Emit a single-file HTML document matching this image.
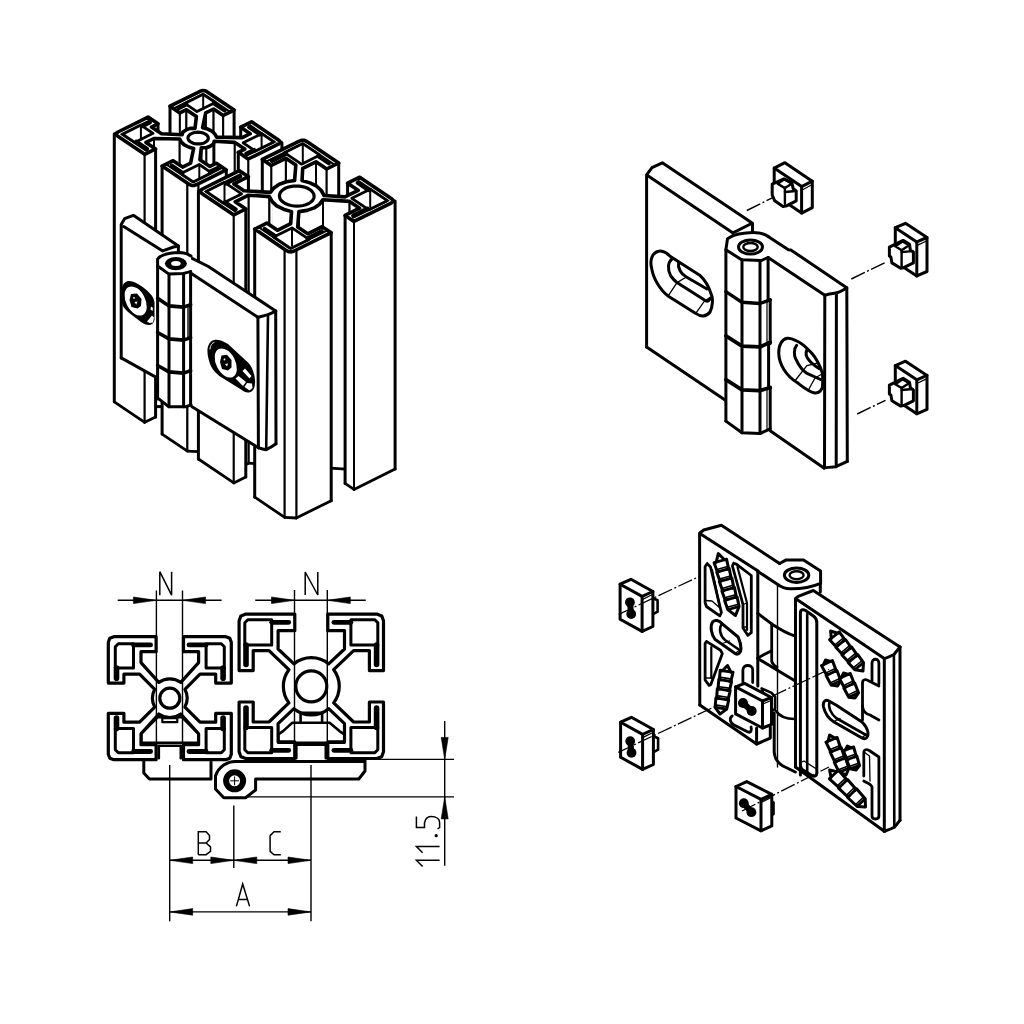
<!DOCTYPE html>
<html><head><meta charset="utf-8"><style>
html,body{margin:0;padding:0;background:#fff;}
svg{display:block;}
</style></head><body>
<svg width="1024" height="1024" viewBox="0 0 1024 1024">
<rect width="1024" height="1024" fill="#fff"/>
<g fill="none" stroke="#000" stroke-width="2.8" stroke-linecap="round">
<polygon points="179.9,112.9 170,106.2 170,374.2 179.9,380.9" fill="#fff" stroke="none"/>
<path d="M179.9,380.9 L170,374.2"/>
<path d="M179.9,112.9 L179.9,380.9" stroke-width="2"/>
<path d="M170,106.2 L170,374.2" stroke-width="3"/>
<polygon points="213.6,109 205.7,112.9 205.7,380.9 213.6,377" fill="#fff" stroke="none"/>
<path d="M213.6,377 L205.7,380.9"/>
<path d="M213.6,109 L213.6,377" stroke-width="2"/>
<path d="M205.7,112.9 L205.7,380.9" stroke-width="2"/>
<polygon points="186.4,109.7 179.9,112.9 179.9,380.9 186.4,377.7" fill="#fff" stroke="none"/>
<path d="M186.4,377.7 L179.9,380.9"/>
<path d="M186.4,109.7 L186.4,377.7" stroke-width="2"/>
<path d="M179.9,112.9 L179.9,380.9" stroke-width="2"/>
<polygon points="223.2,115.5 213.6,109 213.6,377 223.2,383.5" fill="#fff" stroke="none"/>
<path d="M223.2,383.5 L213.6,377"/>
<path d="M223.2,115.5 L223.2,383.5" stroke-width="2"/>
<path d="M213.6,109 L213.6,377" stroke-width="2"/>
<polygon points="234.1,110.1 223.2,115.5 223.2,383.5 234.1,378.1" fill="#fff" stroke="none"/>
<path d="M234.1,378.1 L223.2,383.5"/>
<path d="M234.1,110.1 L234.1,378.1" stroke-width="3"/>
<path d="M223.2,115.5 L223.2,383.5" stroke-width="2"/>
<polygon points="196.4,116.5 186.4,109.7 186.4,377.7 196.4,384.5" fill="#fff" stroke="none"/>
<path d="M196.4,384.5 L186.4,377.7"/>
<path d="M196.4,116.5 L196.4,384.5" stroke-width="3"/>
<path d="M186.4,109.7 L186.4,377.7" stroke-width="2"/>
<polygon points="205.7,112.9 202.6,127.7 202.6,395.7 205.7,380.9" fill="#fff" stroke="none"/>
<path d="M205.7,380.9 L202.6,395.7"/>
<path d="M205.7,112.9 L205.7,380.9" stroke-width="2"/>
<path d="M202.6,127.7 L202.6,395.7" stroke-width="3"/>
<polygon points="158,123.8 151.5,127 151.5,395 158,391.8" fill="#fff" stroke="none"/>
<path d="M158,391.8 L151.5,395"/>
<path d="M158,123.8 L158,391.8" stroke-width="3"/>
<path d="M151.5,127 L151.5,395" stroke-width="3"/>
<polygon points="250.2,133.7 240.7,127.2 240.7,395.2 250.2,401.7" fill="#fff" stroke="none"/>
<path d="M250.2,401.7 L240.7,395.2"/>
<path d="M250.2,133.7 L250.2,401.7" stroke-width="3"/>
<path d="M240.7,127.2 L240.7,395.2" stroke-width="3"/>
<polygon points="179.7,139 154,138.5 154,406.5 179.7,407" fill="#fff" stroke="none"/>
<path d="M179.7,407 L154,406.5"/>
<path d="M179.7,139 L179.7,407" stroke-width="2"/>
<path d="M154,138.5 L154,406.5" stroke-width="2"/>
<polygon points="154,138.5 146,142.4 146,410.4 154,406.5" fill="#fff" stroke="none"/>
<path d="M154,406.5 L146,410.4"/>
<path d="M154,138.5 L154,406.5" stroke-width="2"/>
<path d="M146,142.4 L146,410.4" stroke-width="3"/>
<polygon points="181.3,142.1 179.7,139 179.7,407 181.3,410.1" fill="#fff" stroke="none"/>
<path d="M181.3,410.1 L179.7,407"/>
<path d="M179.7,139 L179.7,407" stroke-width="2"/>
<polygon points="234.8,142.4 214.2,141.3 214.2,409.3 234.8,410.4" fill="#fff" stroke="none"/>
<path d="M234.8,410.4 L214.2,409.3"/>
<path d="M234.8,142.4 L234.8,410.4" stroke-width="2"/>
<path d="M214.2,141.3 L214.2,409.3" stroke-width="2"/>
<polygon points="214.2,141.3 213.4,144.1 213.4,412.1 214.2,409.3" fill="#fff" stroke="none"/>
<path d="M214.2,409.3 L213.4,412.1"/>
<path d="M214.2,141.3 L214.2,409.3" stroke-width="2"/>
<path d="M213.4,144.1 L213.4,412.1" stroke-width="2"/>
<polygon points="184.3,144.9 181.3,142.1 181.3,410.1 184.3,412.9" fill="#fff" stroke="none"/>
<path d="M184.3,412.9 L181.3,410.1"/>
<polygon points="144.7,154.3 114.3,133.8 114.3,401.8 144.7,422.3" fill="#fff" stroke="none"/>
<path d="M144.7,422.3 L114.3,401.8"/>
<path d="M144.7,154.3 L144.7,422.3" stroke-width="2"/>
<path d="M114.3,133.8 L114.3,401.8" stroke-width="3"/>
<polygon points="213.4,144.1 210.2,146.2 210.2,414.2 213.4,412.1" fill="#fff" stroke="none"/>
<path d="M213.4,412.1 L210.2,414.2"/>
<path d="M213.4,144.1 L213.4,412.1" stroke-width="2"/>
<polygon points="244.8,149.1 234.8,142.4 234.8,410.4 244.8,417.1" fill="#fff" stroke="none"/>
<path d="M244.8,417.1 L234.8,410.4"/>
<path d="M244.8,149.1 L244.8,417.1" stroke-width="3"/>
<path d="M234.8,142.4 L234.8,410.4" stroke-width="2"/>
<polygon points="188.6,147 184.3,144.9 184.3,412.9 188.6,415" fill="#fff" stroke="none"/>
<path d="M188.6,415 L184.3,412.9"/>
<polygon points="210.2,146.2 206.2,147.7 206.2,415.7 210.2,414.2" fill="#fff" stroke="none"/>
<path d="M210.2,414.2 L206.2,415.7"/>
<path d="M206.2,147.7 L206.2,415.7" stroke-width="2"/>
<polygon points="206.2,147.7 201.3,147.7 201.3,415.7 206.2,415.7" fill="#fff" stroke="none"/>
<path d="M206.2,415.7 L201.3,415.7"/>
<path d="M206.2,147.7 L206.2,415.7" stroke-width="2"/>
<path d="M201.3,147.7 L201.3,415.7" stroke-width="2"/>
<polygon points="193.6,148.5 188.6,147 188.6,415 193.6,416.5" fill="#fff" stroke="none"/>
<path d="M193.6,416.5 L188.6,415"/>
<path d="M193.6,148.5 L193.6,416.5" stroke-width="3"/>
<polygon points="281.9,142.4 248.2,159 248.2,427 281.9,410.4" fill="#fff" stroke="none"/>
<path d="M281.9,410.4 L248.2,427"/>
<path d="M281.9,142.4 L281.9,410.4" stroke-width="3"/>
<path d="M248.2,159 L248.2,427" stroke-width="2"/>
<polygon points="155.6,148.9 144.7,154.3 144.7,422.3 155.6,416.9" fill="#fff" stroke="none"/>
<path d="M155.6,416.9 L144.7,422.3"/>
<path d="M155.6,148.9 L155.6,416.9" stroke-width="3"/>
<path d="M144.7,154.3 L144.7,422.3" stroke-width="2"/>
<polygon points="201.3,147.7 199.9,159.7 199.9,427.7 201.3,415.7" fill="#fff" stroke="none"/>
<path d="M201.3,415.7 L199.9,427.7"/>
<path d="M201.3,147.7 L201.3,415.7" stroke-width="2"/>
<path d="M199.9,159.7 L199.9,427.7" stroke-width="3"/>
<polygon points="248.2,159 238.3,152.3 238.3,420.3 248.2,427" fill="#fff" stroke="none"/>
<path d="M248.2,427 L238.3,420.3"/>
<path d="M248.2,159 L248.2,427" stroke-width="2"/>
<path d="M238.3,152.3 L238.3,420.3" stroke-width="3"/>
<polygon points="295.8,165.1 285.8,158.3 285.8,426.3 295.8,433.1" fill="#fff" stroke="none"/>
<path d="M295.8,433.1 L285.8,426.3"/>
<path d="M295.8,165.1 L295.8,433.1" stroke-width="3"/>
<path d="M285.8,158.3 L285.8,426.3" stroke-width="2"/>
<polygon points="285.8,158.3 271.2,165.5 271.2,433.5 285.8,426.3" fill="#fff" stroke="none"/>
<path d="M285.8,426.3 L271.2,433.5"/>
<path d="M285.8,158.3 L285.8,426.3" stroke-width="2"/>
<path d="M271.2,165.5 L271.2,433.5" stroke-width="2"/>
<polygon points="271.2,165.5 262.3,159.4 262.3,427.4 271.2,433.5" fill="#fff" stroke="none"/>
<path d="M271.2,433.5 L262.3,427.4"/>
<path d="M271.2,165.5 L271.2,433.5" stroke-width="2"/>
<path d="M262.3,159.4 L262.3,427.4" stroke-width="3"/>
<polygon points="316,161.8 302.7,168.4 302.7,436.4 316,429.8" fill="#fff" stroke="none"/>
<path d="M316,429.8 L302.7,436.4"/>
<path d="M316,161.8 L316,429.8" stroke-width="2"/>
<path d="M302.7,168.4 L302.7,436.4" stroke-width="2"/>
<polygon points="326.7,169 316,161.8 316,429.8 326.7,437" fill="#fff" stroke="none"/>
<path d="M326.7,437 L316,429.8"/>
<path d="M326.7,169 L326.7,437" stroke-width="2"/>
<path d="M316,161.8 L316,429.8" stroke-width="2"/>
<polygon points="338.7,163 326.7,169 326.7,437 338.7,431" fill="#fff" stroke="none"/>
<path d="M338.7,431 L326.7,437"/>
<path d="M338.7,163 L338.7,431" stroke-width="3"/>
<path d="M326.7,169 L326.7,437" stroke-width="2"/>
<polygon points="302.7,168.4 302,180.5 302,448.5 302.7,436.4" fill="#fff" stroke="none"/>
<path d="M302.7,436.4 L302,448.5"/>
<path d="M302.7,168.4 L302.7,436.4" stroke-width="2"/>
<path d="M302,180.5 L302,448.5" stroke-width="3"/>
<polygon points="187.4,183.1 162.1,166.1 162.1,434.1 187.4,451.1" fill="#fff" stroke="none"/>
<path d="M187.4,451.1 L162.1,434.1"/>
<path d="M187.4,183.1 L187.4,451.1" stroke-width="2"/>
<path d="M162.1,166.1 L162.1,434.1" stroke-width="3"/>
<polygon points="226.3,169.9 198.3,183.7 198.3,451.7 226.3,437.9" fill="#fff" stroke="none"/>
<path d="M226.3,437.9 L198.3,451.7"/>
<path d="M226.3,169.9 L226.3,437.9" stroke-width="3"/>
<path d="M198.3,183.7 L198.3,451.7" stroke-width="2"/>
<polygon points="248.4,176.7 233.9,183.9 233.9,451.9 248.4,444.7" fill="#fff" stroke="none"/>
<path d="M248.4,444.7 L233.9,451.9"/>
<path d="M248.4,176.7 L248.4,444.7" stroke-width="3"/>
<path d="M233.9,183.9 L233.9,451.9" stroke-width="3"/>
<polygon points="198.3,183.7 187.4,183.1 187.4,451.1 198.3,451.7" fill="#fff" stroke="none"/>
<path d="M198.3,451.7 L187.4,451.1"/>
<path d="M198.3,183.7 L198.3,451.7" stroke-width="2"/>
<path d="M187.4,183.1 L187.4,451.1" stroke-width="2"/>
<polygon points="358.2,190.3 347.6,183.2 347.6,451.2 358.2,458.3" fill="#fff" stroke="none"/>
<path d="M358.2,458.3 L347.6,451.2"/>
<path d="M358.2,190.3 L358.2,458.3" stroke-width="3"/>
<path d="M347.6,183.2 L347.6,451.2" stroke-width="3"/>
<polygon points="269.4,196.6 248.5,195.2 248.5,463.2 269.4,464.6" fill="#fff" stroke="none"/>
<path d="M269.4,464.6 L248.5,463.2"/>
<path d="M269.4,196.6 L269.4,464.6" stroke-width="2"/>
<path d="M248.5,195.2 L248.5,463.2" stroke-width="2"/>
<polygon points="248.5,195.2 235.2,201.8 235.2,469.8 248.5,463.2" fill="#fff" stroke="none"/>
<path d="M248.5,463.2 L235.2,469.8"/>
<path d="M248.5,195.2 L248.5,463.2" stroke-width="2"/>
<path d="M235.2,201.8 L235.2,469.8" stroke-width="3"/>
<polygon points="272.2,201.6 269.4,196.6 269.4,464.6 272.2,469.6" fill="#fff" stroke="none"/>
<path d="M272.2,469.6 L269.4,464.6"/>
<path d="M269.4,196.6 L269.4,464.6" stroke-width="2"/>
<polygon points="349.6,201.4 323,199.7 323,467.7 349.6,469.4" fill="#fff" stroke="none"/>
<path d="M349.6,469.4 L323,467.7"/>
<path d="M349.6,201.4 L349.6,469.4" stroke-width="2"/>
<path d="M323,199.7 L323,467.7" stroke-width="2"/>
<polygon points="323,199.7 319.6,204.2 319.6,472.2 323,467.7" fill="#fff" stroke="none"/>
<path d="M323,467.7 L319.6,472.2"/>
<path d="M323,199.7 L323,467.7" stroke-width="2"/>
<polygon points="233.8,214.9 198.4,191 198.4,459 233.8,482.9" fill="#fff" stroke="none"/>
<path d="M233.8,482.9 L198.4,459"/>
<path d="M233.8,214.9 L233.8,482.9" stroke-width="2"/>
<path d="M198.4,191 L198.4,459" stroke-width="3"/>
<polygon points="276.7,205.9 272.2,201.6 272.2,469.6 276.7,473.9" fill="#fff" stroke="none"/>
<path d="M276.7,473.9 L272.2,469.6"/>
<polygon points="359.6,208.2 349.6,201.4 349.6,469.4 359.6,476.2" fill="#fff" stroke="none"/>
<path d="M359.6,476.2 L349.6,469.4"/>
<path d="M359.6,208.2 L359.6,476.2" stroke-width="3"/>
<path d="M349.6,201.4 L349.6,469.4" stroke-width="2"/>
<polygon points="319.6,204.2 314.2,207.9 314.2,475.9 319.6,472.2" fill="#fff" stroke="none"/>
<path d="M319.6,472.2 L314.2,475.9"/>
<polygon points="283.5,209.2 276.7,205.9 276.7,473.9 283.5,477.2" fill="#fff" stroke="none"/>
<path d="M283.5,477.2 L276.7,473.9"/>
<polygon points="314.2,207.9 307.1,210.4 307.1,478.4 314.2,475.9" fill="#fff" stroke="none"/>
<path d="M314.2,475.9 L307.1,478.4"/>
<polygon points="291.5,211.6 283.5,209.2 283.5,477.2 291.5,479.6" fill="#fff" stroke="none"/>
<path d="M291.5,479.6 L283.5,477.2"/>
<path d="M291.5,211.6 L291.5,479.6" stroke-width="3"/>
<polygon points="307.1,210.4 298.9,211.6 298.9,479.6 307.1,478.4" fill="#fff" stroke="none"/>
<path d="M307.1,478.4 L298.9,479.6"/>
<path d="M298.9,211.6 L298.9,479.6" stroke-width="2"/>
<polygon points="395.1,201.1 354,221.4 354,489.4 395.1,469.1" fill="#fff" stroke="none"/>
<path d="M395.1,469.1 L354,489.4"/>
<path d="M395.1,201.1 L395.1,469.1" stroke-width="3"/>
<path d="M354,221.4 L354,489.4" stroke-width="2"/>
<polygon points="245.8,209 233.8,214.9 233.8,482.9 245.8,477" fill="#fff" stroke="none"/>
<path d="M245.8,477 L233.8,482.9"/>
<path d="M245.8,209 L245.8,477" stroke-width="3"/>
<path d="M233.8,214.9 L233.8,482.9" stroke-width="2"/>
<polygon points="354,221.4 345.1,215.4 345.1,483.4 354,489.4" fill="#fff" stroke="none"/>
<path d="M354,489.4 L345.1,483.4"/>
<path d="M354,221.4 L354,489.4" stroke-width="2"/>
<path d="M345.1,215.4 L345.1,483.4" stroke-width="3"/>
<polygon points="298.9,211.6 297.7,227.1 297.7,495.1 298.9,479.6" fill="#fff" stroke="none"/>
<path d="M298.9,479.6 L297.7,495.1"/>
<path d="M298.9,211.6 L298.9,479.6" stroke-width="2"/>
<path d="M297.7,227.1 L297.7,495.1" stroke-width="3"/>
<polygon points="284.7,249.4 254.7,229.1 254.7,497.1 284.7,517.4" fill="#fff" stroke="none"/>
<path d="M284.7,517.4 L254.7,497.1"/>
<path d="M284.7,249.4 L284.7,517.4" stroke-width="2"/>
<path d="M254.7,229.1 L254.7,497.1" stroke-width="3"/>
<polygon points="331.2,232.7 296.3,250 296.3,518 331.2,500.7" fill="#fff" stroke="none"/>
<path d="M331.2,500.7 L296.3,518"/>
<path d="M331.2,232.7 L331.2,500.7" stroke-width="3"/>
<path d="M296.3,250 L296.3,518" stroke-width="2"/>
<polygon points="296.3,250 284.7,249.4 284.7,517.4 296.3,518" fill="#fff" stroke="none"/>
<path d="M296.3,518 L284.7,517.4"/>
<path d="M296.3,250 L296.3,518" stroke-width="2"/>
<path d="M284.7,249.4 L284.7,517.4" stroke-width="2"/>
</g>
<clipPath id="tc1"><polygon points="195,128.4 196.4,116.5 186.4,109.7 179.9,112.9 170,106.2 200.1,91.3 202.5,90.6 204.8,90.7 206.9,91.7 234.1,110.1 223.2,115.5 213.6,109 205.7,112.9 202.6,127.7 207.7,129.1 212,131.2 214.9,134 216.6,137.1 242.3,137.6 250.2,133.7 240.7,127.2 251.6,121.8 278.8,140.2 280.1,141.6 280,142.9 278.3,144.2 248.2,159 238.3,152.3 244.8,149.1 234.8,142.4 214.2,141.3 213.4,144.1 210.2,146.2 206.2,147.7 201.3,147.7 199.9,159.7 209.9,166.4 216.3,163.2 226.3,169.9 196.2,184.8 193.8,185.5 191.5,185.4 189.4,184.4 162.1,166.1 173.1,160.7 182.6,167.1 190.6,163.2 193.6,148.5 188.6,147 184.3,144.9 181.3,142.1 179.7,139 154,138.5 146,142.4 155.6,148.9 144.7,154.3 117.5,135.9 116.2,134.5 116.3,133.2 118,132 148.1,117.1 158,123.8 151.5,127 161.5,133.7 182.1,134.8 182.9,132 186.1,129.9 190.1,128.4"/></clipPath>
<polygon points="195,128.4 196.4,116.5 186.4,109.7 179.9,112.9 170,106.2 200.1,91.3 202.5,90.6 204.8,90.7 206.9,91.7 234.1,110.1 223.2,115.5 213.6,109 205.7,112.9 202.6,127.7 207.7,129.1 212,131.2 214.9,134 216.6,137.1 242.3,137.6 250.2,133.7 240.7,127.2 251.6,121.8 278.8,140.2 280.1,141.6 280,142.9 278.3,144.2 248.2,159 238.3,152.3 244.8,149.1 234.8,142.4 214.2,141.3 213.4,144.1 210.2,146.2 206.2,147.7 201.3,147.7 199.9,159.7 209.9,166.4 216.3,163.2 226.3,169.9 196.2,184.8 193.8,185.5 191.5,185.4 189.4,184.4 162.1,166.1 173.1,160.7 182.6,167.1 190.6,163.2 193.6,148.5 188.6,147 184.3,144.9 181.3,142.1 179.7,139 154,138.5 146,142.4 155.6,148.9 144.7,154.3 117.5,135.9 116.2,134.5 116.3,133.2 118,132 148.1,117.1 158,123.8 151.5,127 161.5,133.7 182.1,134.8 182.9,132 186.1,129.9 190.1,128.4" fill="#fff" stroke="none"/>
<path d="M170,106.2 L200.1,91.3 L202.5,90.6 L204.8,90.7 L206.9,91.7 L234.1,110.1 M251.6,121.8 L278.8,140.2 L280.1,141.6 L280,142.9 L278.3,144.2 L248.2,159 M226.3,169.9 L196.2,184.8 L193.8,185.5 L191.5,185.4 L189.4,184.4 L162.1,166.1 M144.7,154.3 L117.5,135.9 L116.2,134.5 L116.3,133.2 L118,132 L148.1,117.1" fill="none" stroke="#000" stroke-width="9.4" stroke-linejoin="round" clip-path="url(#tc1)"/>
<path d="M170,106.2 L200.1,91.3 L202.5,90.6 L204.8,90.7 L206.9,91.7 L234.1,110.1 M251.6,121.8 L278.8,140.2 L280.1,141.6 L280,142.9 L278.3,144.2 L248.2,159 M226.3,169.9 L196.2,184.8 L193.8,185.5 L191.5,185.4 L189.4,184.4 L162.1,166.1 M144.7,154.3 L117.5,135.9 L116.2,134.5 L116.3,133.2 L118,132 L148.1,117.1" fill="none" stroke="#fff" stroke-width="5.4" stroke-linejoin="round" clip-path="url(#tc1)"/>
<polygon points="195,128.4 196.4,116.5 186.4,109.7 179.9,112.9 170,106.2 200.1,91.3 202.5,90.6 204.8,90.7 206.9,91.7 234.1,110.1 223.2,115.5 213.6,109 205.7,112.9 202.6,127.7 207.7,129.1 212,131.2 214.9,134 216.6,137.1 242.3,137.6 250.2,133.7 240.7,127.2 251.6,121.8 278.8,140.2 280.1,141.6 280,142.9 278.3,144.2 248.2,159 238.3,152.3 244.8,149.1 234.8,142.4 214.2,141.3 213.4,144.1 210.2,146.2 206.2,147.7 201.3,147.7 199.9,159.7 209.9,166.4 216.3,163.2 226.3,169.9 196.2,184.8 193.8,185.5 191.5,185.4 189.4,184.4 162.1,166.1 173.1,160.7 182.6,167.1 190.6,163.2 193.6,148.5 188.6,147 184.3,144.9 181.3,142.1 179.7,139 154,138.5 146,142.4 155.6,148.9 144.7,154.3 117.5,135.9 116.2,134.5 116.3,133.2 118,132 148.1,117.1 158,123.8 151.5,127 161.5,133.7 182.1,134.8 182.9,132 186.1,129.9 190.1,128.4" fill="none" stroke="#000" stroke-width="3.6" stroke-linejoin="round"/>
<polygon points="204.8,142.6 203.4,143.2 201.8,143.6 200.1,143.9 198.3,143.9 196.6,143.9 194.9,143.6 193.3,143.2 191.8,142.6 190.5,141.8 189.5,141 188.7,140.1 188.2,139.1 188,138.1 188.1,137 188.5,136 189.3,135.1 190.2,134.3 191.5,133.6 192.9,133 194.5,132.5 196.2,132.3 197.9,132.2 199.7,132.3 201.4,132.5 203,133 204.5,133.6 205.8,134.3 206.8,135.1 207.6,136.1 208.1,137 208.3,138.1 208.2,139.1 207.7,140.1 207,141 206,141.8 204.8,142.6" fill="#fff" stroke="#000" stroke-width="3.2"/>
<polyline points="224.7,110.7 213.8,103.3" fill="none" stroke="#000" stroke-width="4" stroke-linecap="round"/>
<polyline points="186.2,104.3 178.7,108" fill="none" stroke="#000" stroke-width="4.4" stroke-linecap="round"/>
<polygon points="215.4,102.5 197,111.6 184.8,103.4 203.2,94.3" fill="none" stroke="#000" stroke-width="2.8" stroke-linejoin="round"/>
<line x1="203.2" y1="94.3" x2="203.2" y2="109.6" stroke="#000" stroke-width="2"/>
<polyline points="147.2,149 136.3,141.6" fill="none" stroke="#000" stroke-width="4" stroke-linecap="round"/>
<polyline points="142.3,126 149.8,122.3" fill="none" stroke="#000" stroke-width="4.4" stroke-linecap="round"/>
<polygon points="134.7,142.4 153.1,133.3 140.9,125.1 122.5,134.2" fill="none" stroke="#000" stroke-width="2.8" stroke-linejoin="round"/>
<line x1="140.9" y1="125.1" x2="140.9" y2="140.4" stroke="#000" stroke-width="2"/>
<polyline points="249.1,127.1 260,134.5" fill="none" stroke="#000" stroke-width="4" stroke-linecap="round"/>
<polyline points="254,150.1 246.5,153.8" fill="none" stroke="#000" stroke-width="4.4" stroke-linecap="round"/>
<polygon points="261.6,133.7 243.2,142.8 255.4,151 273.8,141.9" fill="none" stroke="#000" stroke-width="2.8" stroke-linejoin="round"/>
<line x1="261.6" y1="133.7" x2="261.6" y2="149" stroke="#000" stroke-width="2"/>
<polyline points="171.6,165.5 182.5,172.8" fill="none" stroke="#000" stroke-width="4" stroke-linecap="round"/>
<polyline points="210.1,171.8 217.6,168.1" fill="none" stroke="#000" stroke-width="4.4" stroke-linecap="round"/>
<polygon points="180.9,173.6 199.3,164.5 211.5,172.8 193.1,181.9" fill="none" stroke="#000" stroke-width="2.8" stroke-linejoin="round"/>
<line x1="199.3" y1="164.5" x2="199.3" y2="179.9" stroke="#000" stroke-width="2"/>
<clipPath id="tc2"><polygon points="294.6,180.5 295.8,165.1 285.8,158.3 271.2,165.5 262.3,159.4 299.3,141.1 301.9,140.2 304.4,140.4 306.8,141.5 338.7,163 326.7,169 316,161.8 302.7,168.4 302,180.5 310,182.9 316.7,186.2 321.3,190.5 324.1,195.5 344.9,196.9 358.2,190.3 347.6,183.2 359.7,177.2 391.6,198.7 393.1,200.3 392.9,201.7 391.1,203.1 354,221.4 345.1,215.4 359.6,208.2 349.6,201.4 323,199.7 319.6,204.2 314.2,207.9 307.1,210.4 298.9,211.6 297.7,227.1 307.7,233.8 322.2,226.7 331.2,232.7 294.1,251 291.5,251.9 289,251.8 286.6,250.7 254.7,229.1 266.8,223.1 277.4,230.3 290.7,223.7 291.5,211.6 283.5,209.2 276.7,205.9 272.2,201.6 269.4,196.6 248.5,195.2 235.2,201.8 245.8,209 233.8,214.9 201.9,193.4 200.4,191.8 200.5,190.4 202.4,189 239.4,170.7 248.4,176.7 233.9,183.9 243.9,190.7 270.4,192.4 273.9,187.9 279.3,184.2 286.4,181.7"/></clipPath>
<polygon points="294.6,180.5 295.8,165.1 285.8,158.3 271.2,165.5 262.3,159.4 299.3,141.1 301.9,140.2 304.4,140.4 306.8,141.5 338.7,163 326.7,169 316,161.8 302.7,168.4 302,180.5 310,182.9 316.7,186.2 321.3,190.5 324.1,195.5 344.9,196.9 358.2,190.3 347.6,183.2 359.7,177.2 391.6,198.7 393.1,200.3 392.9,201.7 391.1,203.1 354,221.4 345.1,215.4 359.6,208.2 349.6,201.4 323,199.7 319.6,204.2 314.2,207.9 307.1,210.4 298.9,211.6 297.7,227.1 307.7,233.8 322.2,226.7 331.2,232.7 294.1,251 291.5,251.9 289,251.8 286.6,250.7 254.7,229.1 266.8,223.1 277.4,230.3 290.7,223.7 291.5,211.6 283.5,209.2 276.7,205.9 272.2,201.6 269.4,196.6 248.5,195.2 235.2,201.8 245.8,209 233.8,214.9 201.9,193.4 200.4,191.8 200.5,190.4 202.4,189 239.4,170.7 248.4,176.7 233.9,183.9 243.9,190.7 270.4,192.4 273.9,187.9 279.3,184.2 286.4,181.7" fill="#fff" stroke="none"/>
<path d="M262.3,159.4 L299.3,141.1 L301.9,140.2 L304.4,140.4 L306.8,141.5 L338.7,163 M359.7,177.2 L391.6,198.7 L393.1,200.3 L392.9,201.7 L391.1,203.1 L354,221.4 M331.2,232.7 L294.1,251 L291.5,251.9 L289,251.8 L286.6,250.7 L254.7,229.1 M233.8,214.9 L201.9,193.4 L200.4,191.8 L200.5,190.4 L202.4,189 L239.4,170.7" fill="none" stroke="#000" stroke-width="9.4" stroke-linejoin="round" clip-path="url(#tc2)"/>
<path d="M262.3,159.4 L299.3,141.1 L301.9,140.2 L304.4,140.4 L306.8,141.5 L338.7,163 M359.7,177.2 L391.6,198.7 L393.1,200.3 L392.9,201.7 L391.1,203.1 L354,221.4 M331.2,232.7 L294.1,251 L291.5,251.9 L289,251.8 L286.6,250.7 L254.7,229.1 M233.8,214.9 L201.9,193.4 L200.4,191.8 L200.5,190.4 L202.4,189 L239.4,170.7" fill="none" stroke="#fff" stroke-width="5.4" stroke-linejoin="round" clip-path="url(#tc2)"/>
<polygon points="294.6,180.5 295.8,165.1 285.8,158.3 271.2,165.5 262.3,159.4 299.3,141.1 301.9,140.2 304.4,140.4 306.8,141.5 338.7,163 326.7,169 316,161.8 302.7,168.4 302,180.5 310,182.9 316.7,186.2 321.3,190.5 324.1,195.5 344.9,196.9 358.2,190.3 347.6,183.2 359.7,177.2 391.6,198.7 393.1,200.3 392.9,201.7 391.1,203.1 354,221.4 345.1,215.4 359.6,208.2 349.6,201.4 323,199.7 319.6,204.2 314.2,207.9 307.1,210.4 298.9,211.6 297.7,227.1 307.7,233.8 322.2,226.7 331.2,232.7 294.1,251 291.5,251.9 289,251.8 286.6,250.7 254.7,229.1 266.8,223.1 277.4,230.3 290.7,223.7 291.5,211.6 283.5,209.2 276.7,205.9 272.2,201.6 269.4,196.6 248.5,195.2 235.2,201.8 245.8,209 233.8,214.9 201.9,193.4 200.4,191.8 200.5,190.4 202.4,189 239.4,170.7 248.4,176.7 233.9,183.9 243.9,190.7 270.4,192.4 273.9,187.9 279.3,184.2 286.4,181.7" fill="none" stroke="#000" stroke-width="3.6" stroke-linejoin="round"/>
<polygon points="308.2,203.8 305.7,204.8 303,205.5 300.1,206 297.1,206.1 294.1,206 291.1,205.5 288.3,204.8 285.8,203.8 283.6,202.5 281.9,201.1 280.5,199.5 279.7,197.8 279.4,196 279.6,194.3 280.3,192.6 281.5,191 283.2,189.6 285.3,188.3 287.7,187.3 290.5,186.6 293.4,186.1 296.4,186 299.4,186.1 302.3,186.6 305.1,187.3 307.6,188.3 309.8,189.6 311.6,191 312.9,192.6 313.8,194.3 314.1,196.1 313.9,197.8 313.2,199.5 312,201.1 310.3,202.5 308.2,203.8" fill="#fff" stroke="#000" stroke-width="3.2"/>
<polyline points="328.9,163.3 318.1,156" fill="none" stroke="#000" stroke-width="4" stroke-linecap="round"/>
<polyline points="286,153.8 271.9,160.7" fill="none" stroke="#000" stroke-width="4.4" stroke-linecap="round"/>
<polygon points="319.9,155.1 301.5,164.2 284.4,152.7 302.8,143.6" fill="none" stroke="#000" stroke-width="2.8" stroke-linejoin="round"/>
<line x1="302.8" y1="143.6" x2="302.8" y2="162.2" stroke="#000" stroke-width="2"/>
<polyline points="235.8,209.4 225,202.1" fill="none" stroke="#000" stroke-width="4" stroke-linecap="round"/>
<polyline points="226.1,183.4 240.2,176.4" fill="none" stroke="#000" stroke-width="4.4" stroke-linecap="round"/>
<polygon points="223.2,203 241.6,193.9 224.5,182.3 206.1,191.4" fill="none" stroke="#000" stroke-width="2.8" stroke-linejoin="round"/>
<line x1="224.5" y1="182.3" x2="224.5" y2="201" stroke="#000" stroke-width="2"/>
<polyline points="357.6,182.8 368.4,190.1" fill="none" stroke="#000" stroke-width="4" stroke-linecap="round"/>
<polyline points="367.4,208.7 353.3,215.7" fill="none" stroke="#000" stroke-width="4.4" stroke-linecap="round"/>
<polygon points="370.2,189.2 351.8,198.3 368.9,209.8 387.3,200.7" fill="none" stroke="#000" stroke-width="2.8" stroke-linejoin="round"/>
<line x1="370.2" y1="189.2" x2="370.2" y2="207.8" stroke="#000" stroke-width="2"/>
<polyline points="264.6,228.8 275.4,236.1" fill="none" stroke="#000" stroke-width="4" stroke-linecap="round"/>
<polyline points="307.5,238.4 321.6,231.4" fill="none" stroke="#000" stroke-width="4.4" stroke-linecap="round"/>
<polygon points="273.6,237 292,227.9 309,239.4 290.7,248.5" fill="none" stroke="#000" stroke-width="2.8" stroke-linejoin="round"/>
<line x1="292" y1="227.9" x2="292" y2="246.5" stroke="#000" stroke-width="2"/>
<g fill="none" stroke="#000" stroke-linejoin="round" stroke-linecap="round">
<polygon points="121.2,357.9 121.2,224.5 124.6,218.7 133.4,215.3 178.4,246 178.4,251 158,265 158,378.4" fill="#fff" stroke="none"/>
<polyline points="121.2,357.9 121.2,224.5 124.6,218.7 133.4,215.3 178.4,246 178.4,251" stroke-width="3"/>
<polyline points="123.7,226.5 162.7,250.9 173.5,247 178.4,246" stroke-width="3"/>
<polyline points="121.2,357.9 158,378.4" stroke-width="3"/>
<path d="M122,288 C123,283 126,281 129,281 C134,281 142,286 147,290.5 C151,294 154,298 154.5,302 L154.5,320 C154,323 151.5,325 148.8,325 C146,325 144,324 141,322 L128,312 C125,309 122,306 122,302 Z" fill="#000" stroke="none"/>
<ellipse cx="135.7" cy="301" rx="9.6" ry="15.6" fill="#fff" stroke="none" transform="rotate(-27 135.7 301)"/>
<polygon points="131,294 137,293.5 141.5,299 141,306 137.5,308.5 131.5,307 129.5,300" fill="#000" stroke="none"/>
<circle cx="134" cy="297.8" r="0.9" fill="#fff" stroke="none"/>
<polygon points="134.5,302 137.5,301.5 136.2,304.6" fill="#fff" stroke="none"/>
<polygon points="151,306.5 153,308 152.5,311 150.5,309.5" fill="#fff" stroke="none"/>
<polygon points="147,321.5 152,315.5 154,317.5 153,322.5 149.5,323" fill="#fff" stroke="none"/>
<polygon points="190.6,257.6 208.4,266.5 275.7,311 276,443.8 266.25,449.7 258.4,447.7 192,406.7" fill="#fff" stroke="none"/>
<polyline points="190.6,257.6 208.4,266.5 275.7,311" stroke-width="3"/>
<polyline points="190.6,272.9 257.9,317.3" stroke-width="3"/>
<path d="M257.9,317.3 C261,316.5 265,315.7 268,314.7 C271,313.5 273.5,312.3 275.7,311" stroke-width="3"/>
<polyline points="257.9,317.3 258.4,447.7" stroke-width="3"/>
<polyline points="268,314.7 266.2,449.7" stroke-width="2.6"/>
<polyline points="275.7,311 276,443.8" stroke-width="3"/>
<polyline points="192,406.7 258.4,447.7" stroke-width="3"/>
<path d="M258.4,447.7 C261,448.5 263.5,449.2 266.25,449.7 C270,448 273,446 276,443.8" stroke-width="3"/>
<path d="M207.5,352 C207,346 210,340.5 215,339.8 C219,339.5 223,341 228,344 L245,359.8 C249,363 252,367 253,371 C255,376 255.5,381 254.8,385.5 C254,390 251.5,392.5 248,392.5 C245.5,392.5 243.5,391.5 241.9,390.1 L219.3,375.9 C214,372 211,367 209.7,363 C208.5,359 207.5,355.5 207.5,352 Z" fill="#000" stroke="none"/>
<path d="M210,349 C210.5,345 212,343 214,342.5" stroke="#fff" stroke-width="1" fill="none"/>
<ellipse cx="225.8" cy="363" rx="9.6" ry="15.6" fill="#fff" stroke="none" transform="rotate(-27 225.8 363)"/>
<polygon points="221.5,355.5 227,354.8 231.5,360 231.5,367.5 228,370.5 222,369 220,362" fill="#000" stroke="none"/>
<circle cx="224.5" cy="359.5" r="0.9" fill="#fff" stroke="none"/>
<polygon points="225,364 228,363.5 227,366.5" fill="#fff" stroke="none"/>
<polygon points="242.5,371 245,368.5 251.5,376 249.5,378.5" fill="#fff" stroke="none"/>
<polygon points="235.5,378.5 238.5,376 246,382 243,386" fill="#fff" stroke="none"/>
<polygon points="244.5,387 247,383 252,383.5 252.5,388 249.5,390.5" fill="#fff" stroke="none"/>
<polygon points="157.6,266.5 157.6,259 164.7,253.8 178.4,252.4 188.1,253.8 191,255.8 190.6,404.8 186.2,406.7 168.6,406.7 158.8,398.9" fill="#fff" stroke="none"/>
<path d="M157.6,399 L157.6,259 C160,255.5 166,253 178.4,252.4 C184,252.4 188,253.8 191,256" stroke-width="3"/>
<polyline points="157.6,266 169,274.1 183.6,273.4 190.6,271.6" stroke-width="3"/>
<polyline points="169,274.1 169,406.7" stroke-width="3"/>
<polyline points="183.6,273.4 183.6,406.7" stroke-width="3"/>
<polyline points="190.6,271.6 190.6,404.8" stroke-width="3"/>
<polyline points="188,305 188,337" stroke-width="1.4"/>
<polyline points="157.6,298.2 169,305.9 183.6,307.1 190.6,304.6" stroke-width="3.6"/>
<polyline points="157.6,332.5 169,338.9 183.6,340.1 190.6,337.6" stroke-width="3.6"/>
<polyline points="157.6,365.5 169,371.9 183.6,373.1 190.6,370.6" stroke-width="3.6"/>
<polyline points="158.8,398.9 168.6,406.7 186.2,406.7 191,404.8" stroke-width="3"/>
<ellipse cx="175.9" cy="263.6" rx="11" ry="6.6" fill="#000" stroke="none"/>
<ellipse cx="175.9" cy="263.4" rx="4.8" ry="2.5" fill="#fff" stroke="none"/>
</g><g fill="none" stroke="#000" stroke-linejoin="round" stroke-linecap="round">
<path d="M154.7,689.3 L139.6,674.2 L123.9,674.2 L123.9,683.1 L108.3,683.1 L108.3,642.2 L109.8,638.2 L113.8,636.7 L156.1,636.7 L156.1,651.7 L141,651.7 L141,662.6 L158.8,682.4 A19,19 0 0 1 180.8,682.4 L198.6,662.6 L198.6,651.7 L183.5,651.7 L183.5,636.7 L225.8,636.7 L229.8,638.2 L231.3,642.2 L231.3,683.1 L215.7,683.1 L215.7,674.2 L200,674.2 L184.9,689.3 A19,19 0 0 1 184.9,707.1 L200,722.2 L215.7,722.2 L215.7,713.3 L231.3,713.3 L231.3,754.2 L229.8,758.2 L225.8,759.7 L183.5,759.7 L183.5,744.7 L198.6,744.7 L198.6,733.8 L180.8,714 A19,19 0 0 1 158.8,714 L141,733.8 L141,744.7 L156.1,744.7 L156.1,759.7 L113.8,759.7 L109.8,758.2 L108.3,754.2 L108.3,713.3 L123.9,713.3 L123.9,722.2 L139.6,722.2 L154.7,707.1 A19,19 0 0 1 154.7,689.3 Z" stroke-width="3.2"/>
<polyline points="150.6,644.9 133.5,644.9" stroke-width="4.8"/>
<polyline points="116.5,668 116.5,678.3" stroke-width="5.6"/>
<polyline points="133.5,644.7 133.5,668 115.3,668 115.3,646.7 118.3,643.7 133.5,643.7" stroke-width="3"/>
<polyline points="150.6,751.5 133.5,751.5" stroke-width="4.8"/>
<polyline points="116.5,728.4 116.5,718.1" stroke-width="5.6"/>
<polyline points="133.5,751.7 133.5,728.4 115.3,728.4 115.3,749.7 118.3,752.7 133.5,752.7" stroke-width="3"/>
<polyline points="189,644.9 206.1,644.9" stroke-width="4.8"/>
<polyline points="223.1,668 223.1,678.3" stroke-width="5.6"/>
<polyline points="206.1,644.7 206.1,668 224.3,668 224.3,646.7 221.3,643.7 206.1,643.7" stroke-width="3"/>
<polyline points="189,751.5 206.1,751.5" stroke-width="4.8"/>
<polyline points="223.1,728.4 223.1,718.1" stroke-width="5.6"/>
<polyline points="206.1,751.7 206.1,728.4 224.3,728.4 224.3,749.7 221.3,752.7 206.1,752.7" stroke-width="3"/>
<circle cx="169.8" cy="698.2" r="10" stroke-width="3.2"/>
<polyline points="141.3,742.7 141.3,733.7 157.8,717.2 181.8,717.2 198.3,733.7 198.3,742.7 141.3,742.7" stroke-width="2.6"/>
<polyline points="162.3,722.2 162.3,718.2 177.3,718.2 177.3,722.2 162.3,722.2" stroke-width="2.2"/>
<polyline points="158.8,758.2 158.8,745.7 180.8,745.7 180.8,758.2" stroke-width="2.6"/>
<path d="M288.9,669.7 L269,650.6 L253.2,650.6 L253.2,670.6 L239.1,670.6 L239.1,620.8 L240.9,615.9 L245.8,614.1 L294.8,614.1 L294.8,630.7 L278.1,630.7 L278.1,649 L293.9,663.9 A27.5,27.5 0 0 1 328.7,663.9 L344.5,649 L344.5,630.7 L327.8,630.7 L327.8,614.1 L376.8,614.1 L381.7,615.9 L383.5,620.8 L383.5,670.6 L369.4,670.6 L369.4,650.6 L353.6,650.6 L333.7,669.7 A27.5,27.5 0 0 1 333.7,702.9 L353.6,722 L369.4,722 L369.4,702 L383.5,702 L383.5,751.8 L381.7,756.7 L376.8,758.5 L327.8,758.5 L327.8,741.9 L344.5,741.9 L344.5,723.6 L328.7,708.7 A27.5,27.5 0 0 1 293.9,708.7 L278.1,723.6 L278.1,741.9 L294.8,741.9 L294.8,758.5 L245.8,758.5 L240.9,756.7 L239.1,751.8 L239.1,702 L253.2,702 L253.2,722 L269,722 L288.9,702.9 A27.5,27.5 0 0 1 288.9,669.7 Z" stroke-width="3.2"/>
<polyline points="288.7,622.3 271.7,622.3" stroke-width="4.8"/>
<polyline points="246,645.1 246,664.5" stroke-width="5.6"/>
<polyline points="271.7,620.8 271.7,645.1 244.8,645.1 244.8,622.8 247.8,619.8 271.7,619.8" stroke-width="3"/>
<polyline points="288.7,750.3 271.7,750.3" stroke-width="4.8"/>
<polyline points="246,727.5 246,708.1" stroke-width="5.6"/>
<polyline points="271.7,751.8 271.7,727.5 244.8,727.5 244.8,749.8 247.8,752.8 271.7,752.8" stroke-width="3"/>
<polyline points="333.9,622.3 350.9,622.3" stroke-width="4.8"/>
<polyline points="376.6,645.1 376.6,664.5" stroke-width="5.6"/>
<polyline points="350.9,620.8 350.9,645.1 377.8,645.1 377.8,622.8 374.8,619.8 350.9,619.8" stroke-width="3"/>
<polyline points="333.9,750.3 350.9,750.3" stroke-width="4.8"/>
<polyline points="376.6,727.5 376.6,708.1" stroke-width="5.6"/>
<polyline points="350.9,751.8 350.9,727.5 377.8,727.5 377.8,749.8 374.8,752.8 350.9,752.8" stroke-width="3"/>
<circle cx="311.3" cy="686.3" r="15.5" stroke-width="3.2"/>
<polyline points="278.3,742.8 278.3,734.3 283.1,731.1 292.3,722.8 329.6,722.8 339.5,731.1 344.3,734.3 344.3,742.8 278.3,742.8" stroke-width="2.6"/>
<polyline points="300.6,722 300.6,712.9 322.1,712.9 322.1,722" stroke-width="2.6"/>
<polyline points="296.3,758.3 296.3,744.8 325.8,744.8 325.8,758.3" stroke-width="2.6"/>
<path d="M143.8,760.5 L143.8,773 L149.4,779 L211,779 L211,762" stroke-width="3"/>
<path d="M365,760.3 L365,771 L358.8,779 L255.6,779 L255.6,790 L245.6,797.8 L223.8,797.8 L215.5,789 L215.5,776 A21,21 0 0 1 237,761.5 L365,761.5" stroke-width="3"/>
<circle cx="234.6" cy="780.8" r="8.5" stroke-width="6"/>
<path d="M230.6,780.8 H238.6 M234.6,776.8 V784.8" stroke-width="1"/>
</g>
<g fill="none" stroke="#000" stroke-width="1.4">
<path d="M117.7,600.3 H221.6 M156.4,590.5 V759 M182.5,590.5 V759"/>
<path d="M255.2,600.3 H365.8 M294.5,590 V759 M327.3,590 V759"/>
<path d="M169.7,765 V921.3 M233.8,805.6 V868 M311,765 V921.3"/>
<path d="M169.7,860.3 H311 M169.7,911.9 H311"/>
<path d="M365,759.4 H454 M246,796.9 H454 M444.7,720.9 V865.8"/>
</g>
<g>
<path d="M156.4,600.3 L133.4,597 L133.4,603.6 Z" fill="#000" stroke="#000" stroke-width="0.6" stroke-linejoin="miter"/>
<path d="M182.5,600.3 L205.5,597 L205.5,603.6 Z" fill="#000" stroke="#000" stroke-width="0.6" stroke-linejoin="miter"/>
<path d="M294.5,600.3 L271.5,597 L271.5,603.6 Z" fill="#000" stroke="#000" stroke-width="0.6" stroke-linejoin="miter"/>
<path d="M327.3,600.3 L350.3,597 L350.3,603.6 Z" fill="#000" stroke="#000" stroke-width="0.6" stroke-linejoin="miter"/>
<path d="M169.7,860.3 L192.7,857 L192.7,863.6 Z" fill="#000" stroke="#000" stroke-width="0.6" stroke-linejoin="miter"/>
<path d="M233.8,860.3 L210.8,857 L210.8,863.6 Z" fill="#000" stroke="#000" stroke-width="0.6" stroke-linejoin="miter"/>
<path d="M233.8,860.3 L256.8,857 L256.8,863.6 Z" fill="#000" stroke="#000" stroke-width="0.6" stroke-linejoin="miter"/>
<path d="M311,860.3 L288,857 L288,863.6 Z" fill="#000" stroke="#000" stroke-width="0.6" stroke-linejoin="miter"/>
<path d="M169.7,911.9 L192.7,908.6 L192.7,915.2 Z" fill="#000" stroke="#000" stroke-width="0.6" stroke-linejoin="miter"/>
<path d="M311,911.9 L288,908.6 L288,915.2 Z" fill="#000" stroke="#000" stroke-width="0.6" stroke-linejoin="miter"/>
<path d="M444.7,759.4 L441.2,737.4 L448.2,737.4 Z" fill="#000" stroke="#000" stroke-width="0.6"/>
<path d="M444.7,796.9 L441.2,818.9 L448.2,818.9 Z" fill="#000" stroke="#000" stroke-width="0.6"/>
</g>
<g fill="none" stroke="#000" stroke-width="1.5" stroke-linejoin="miter" stroke-linecap="butt">
<path d="M159.8,595.2 V571.7 L171.6,595.2 V571.7"/>
<path d="M305.2,595 V572 L317.8,595 V572"/>
<path d="M198.3,854.7 V831.7 H206.1 L209.5,835.6 V839.5 L206.1,843 H198.3 M206.1,843 L210.5,846.9 V851.3 L206.1,854.7 H198.3"/>
<path d="M280.8,831.7 H274 L270.1,835.6 V851.3 L274,854.7 H280.8"/>
<path d="M236.4,906.4 L242.7,884 L249.6,906.4 M238.3,899.6 H247.1"/>
<path d="M439.6,860.3 H416.4 L422.6,866.5 M439.6,846.6 H416.4 L422.6,852.8"/>
<path d="M416.4,816.6 V827.5 H424.5 C423.5,822 426,816.6 431,816.6 C437,816.6 439.6,819.5 439.6,822.5 V827.5 L437.5,829"/>
</g>
<circle cx="436.2" cy="835.7" r="1.6" fill="#000"/>
<g>
</g><g fill="none" stroke="#000" stroke-linejoin="round" stroke-linecap="round">
<polyline points="646.6,346.9 646.6,174.8 652,167.6 662.3,162.8 752.5,223.3 752.5,232.8" stroke-width="3"/>
<polyline points="647.5,175.5 733,232.9 751.5,223.5" stroke-width="3"/>
<polyline points="646.6,346.9 725.8,400.5" stroke-width="3"/>
<path d="M670.8,256.8 C666,252 661,250.5 658.5,251.3 C651,253 650,262 651.6,268 C653,278 660,290 668.4,296.25 L695.8,313.4 C700,316.5 706,317.5 710,312 C713,306 713,298 711.4,294.7 C709,287 705,280 699.7,275.2 Z" stroke-width="3"/>
<path d="M672.3,258.5 C668,262 667,269 670.8,276 C673,279 675,281 677,282.6 L706,301 C708,302 709.5,300 710.5,298" stroke-width="3"/>
<path d="M678.6,262.5 C677.5,268 681,274 686.4,277 L707,289" stroke-width="3"/>
<path d="M668.4,295.6 L677,282.6 L686.4,277 M695.8,313.4 L704.5,301 L710,297.5" stroke-width="1.3"/>
<polygon points="725.9,249.7 727.5,238.8 733,235.6 746.3,232.9 758.8,232.9 768.1,236.4 770,258 770.2,429 760,433.6 742,432.8 725.7,421.1" fill="#fff" stroke="none"/>
<polyline points="725.9,421.1 725.9,249.7 727.5,238.8 733,235.6" stroke-width="3"/>
<path d="M733,235.6 C740,233 752,232 758.8,232.9 C762,233.5 765,234.5 768.1,236.4" stroke-width="3"/>
<polyline points="725.9,249.7 741.6,259.8 761.1,260.6 768.1,257.5" stroke-width="3"/>
<polyline points="742,259.8 742,432.8" stroke-width="3"/>
<polyline points="760,260.6 760,433.6" stroke-width="3"/>
<polyline points="725.9,421.1 742,432.8 760,433.6 770.2,428.9" stroke-width="3"/>
<polyline points="768.1,257.5 768.1,300" stroke-width="3"/>
<polyline points="770.2,300 770.2,343.5" stroke-width="3"/>
<polyline points="768.6,343.5 768.6,387.5" stroke-width="3"/>
<polyline points="770.2,387.5 770.2,429" stroke-width="3"/>
<polyline points="767,300 767,343" stroke-width="1.2"/>
<polyline points="767,388 767,429" stroke-width="1.2"/>
<polyline points="725.9,291.6 742,302.3 760,303.5 770.2,299.8" stroke-width="3.4"/>
<polyline points="725.9,335.9 742,346.1 760,346.9 770.2,342.2" stroke-width="3.8"/>
<polyline points="725.9,379.7 742,389.8 760,390.6 770.2,387.5" stroke-width="3.8"/>
<ellipse cx="750.5" cy="247" rx="12" ry="7" stroke-width="3"/>
<ellipse cx="750.5" cy="247" rx="7.2" ry="4" stroke-width="2.4"/>
<polyline points="768.1,236.4 788.4,249.7 790.8,249.9 846.7,287.8" stroke-width="3"/>
<polyline points="768.1,257.5 824.8,295.3" stroke-width="3"/>
<path d="M824.8,295.3 C829,294 833,293.5 836.6,293 C840,292 843,290 846.7,288" stroke-width="3"/>
<polyline points="824.8,295.3 824.5,467.9" stroke-width="3"/>
<polyline points="836.4,293 836.2,466.7" stroke-width="3"/>
<polyline points="846.8,288 847.3,461.4" stroke-width="3"/>
<polyline points="770.5,431 823.9,467.9" stroke-width="3"/>
<path d="M823.9,467.9 C828,467.5 832,467 835.6,466.7 C840,465 844,463 847.3,461.4" stroke-width="3"/>
<path d="M787.3,338.3 C782,339 778.5,345 778.75,353.1 C779,364 786,376 797.5,382.8 C803,387 809,392 814.7,393 C819,393.5 822.5,390 822.5,386 C823,381 822.5,376 822.5,373.4 C820,366 816,358 811.6,353.1 C806,347 800,342 796,340.6 C793,339 790,338 787.3,338.3 Z" stroke-width="3"/>
<path d="M796.7,345.3 C793.5,349 794,356 796,359.4 C799,366 803,371 807,373.4 L820.5,379.5" stroke-width="3"/>
<path d="M806.9,350 C805.5,353 806.5,357 808.4,359.4 C811,363 815,366 819.4,368.75" stroke-width="3"/>
<path d="M795.2,380.5 L806.9,365.6 L818,363 M808.4,390 L815,378 L822,374" stroke-width="1.3"/>
</g>
<g fill="none" stroke="#000" stroke-linejoin="round" stroke-linecap="round">
<polygon points="895.3,227.7 905.5,223.3 927,237.5 927,271.5 916.8,275.9 895.3,261.7" fill="#fff" stroke="none"/>
<polyline points="895.3,261.7 895.3,227.7 905.5,223.3 927,237.5 927,271.5 916.8,275.9 895.3,261.7" stroke-width="3"/>
<polyline points="895.3,227.7 916.8,241.9 927,237.5" stroke-width="3"/>
<polyline points="916.8,241.9 916.8,275.9" stroke-width="3"/>
<polyline points="917.8,245.1 927,240.7" stroke-width="1.2"/>
<polygon points="889.4,247.2 903.1,240.4 909.5,244.3 910.4,250.2 913.4,252.1 913.4,262.9 903.6,267.7 900.7,268.2 891.9,262.9 890.9,257 889.4,256" fill="#fff" stroke="#000" stroke-width="3"/>
<polyline points="895.3,246.3 902.6,241.4 909,245.3 901.6,250.2 895.3,246.3" stroke-width="2.4"/>
<polyline points="901.6,250.2 901.6,267.7" stroke-width="2.4"/>
<polyline points="901.6,252.1 912.4,251.1" stroke-width="2.4"/>
<polygon points="895.3,365.6 905.5,361.2 927,375.4 927,409.4 916.8,413.8 895.3,399.6" fill="#fff" stroke="none"/>
<polyline points="895.3,399.6 895.3,365.6 905.5,361.2 927,375.4 927,409.4 916.8,413.8 895.3,399.6" stroke-width="3"/>
<polyline points="895.3,365.6 916.8,379.8 927,375.4" stroke-width="3"/>
<polyline points="916.8,379.8 916.8,413.8" stroke-width="3"/>
<polyline points="917.8,383 927,378.6" stroke-width="1.2"/>
<polygon points="889.4,385.1 903.1,378.3 909.5,382.2 910.4,388.1 913.4,390 913.4,400.8 903.6,405.6 900.7,406.1 891.9,400.8 890.9,394.9 889.4,393.9" fill="#fff" stroke="#000" stroke-width="3"/>
<polyline points="895.3,384.2 902.6,379.3 909,383.2 901.6,388.1 895.3,384.2" stroke-width="2.4"/>
<polyline points="901.6,388.1 901.6,405.6" stroke-width="2.4"/>
<polyline points="901.6,390 912.4,389" stroke-width="2.4"/>
<polygon points="774.2,168.1 784.9,162.7 812.3,181.2 812.3,207.7 801.6,213.1 774.2,194.6" fill="#fff" stroke="none"/>
<polyline points="774.2,194.6 774.2,168.1 784.9,162.7 812.3,181.2 812.3,207.7 801.6,213.1 774.2,194.6" stroke-width="3"/>
<polyline points="774.2,168.1 801.6,186.6 812.3,181.2" stroke-width="3"/>
<polyline points="801.6,186.6 801.6,213.1" stroke-width="3"/>
<polyline points="802.6,189.8 812.3,184.4" stroke-width="1.2"/>
<polygon points="772.2,184.2 783.9,178.8 791.8,182.7 793.2,188.6 796.2,191 796.2,200.8 786.9,205.7 783,206.6 774.7,200.8 772.2,195" fill="#fff" stroke="#000" stroke-width="3"/>
<polyline points="777.6,183.7 784.4,179.3 791.8,183.7 784.9,188.1 777.6,183.7" stroke-width="2.4"/>
<polyline points="784.9,188.1 784.9,203.7" stroke-width="2.4"/>
<polyline points="784.9,192 795.7,191" stroke-width="2.4"/>
</g>
<g fill="none" stroke="#000" stroke-width="1.4" stroke-dasharray="15,2.5,2,2.5">
<path d="M746.8,210.5 L772.2,197.9"/>
<path d="M851.3,279 L885.5,262.4"/>
<path d="M857.2,414 L885.5,400.3"/>
</g><g fill="none" stroke="#000" stroke-linejoin="round" stroke-linecap="round">
<polyline points="699.8,704.9 699.6,533.2 703.7,530 721.4,525.3 779.6,563.5" stroke-width="3"/>
<polyline points="700.2,533.8 758,571" stroke-width="3"/>
<polyline points="699.8,704.9 756.6,744 770.3,738.1 770.3,727" stroke-width="3"/>
<polyline points="756.6,744 756.6,728" stroke-width="3"/>
<polyline points="757.8,571 757.8,686" stroke-width="3"/>
<polyline points="707.3,563.6 710.5,567 721.4,612.5 719.8,615.8 706.4,606.5 705.1,602.5 705.1,566.5 707.3,563.6" stroke-width="2.8"/>
<polyline points="712,570 720,608" stroke-width="2.2"/>
<polyline points="705.5,600.5 712,601 720,608" stroke-width="1.3"/>
<polyline points="733.7,563.2 736.3,564.1 751.3,575.5 751.3,632.7 747.8,635.3 743,628 743,604.5 732.4,566 733.7,563.2" stroke-width="2.8"/>
<polyline points="737.5,567 747,603 747,630" stroke-width="2.2"/>
<polyline points="743,604.5 747,603" stroke-width="1.3"/>
<polyline points="743,627 747,627" stroke-width="1.3"/>
<path d="M722.3,623.8 C719,620 715,619.5 712.5,622 C710,626 711,634 715.2,639.6 L735.5,653.7 C738,655 741,653 741,649 C741,645 740.5,642 738.1,637 Z" stroke-width="3"/>
<path d="M722,624 C718.5,628 720,636 725,640 L739.5,650" stroke-width="2.6"/>
<polyline points="722.3,643.5 729.5,641" stroke-width="1.3"/>
<polyline points="735.5,653 740,650" stroke-width="1.3"/>
<polyline points="706.4,641.4 720.5,650.2 722.3,653.7 710.8,684.5 709.1,685.4 705.1,680 705.1,643.5 706.4,641.4" stroke-width="2.8"/>
<polyline points="711.3,647 711.3,678" stroke-width="2.2"/>
<polyline points="705.5,678 711.3,678" stroke-width="1.3"/>
<path d="M742.9,682.5 V670 C742.9,664 752.7,664 752.7,670 V682.5" stroke-width="2.8"/>
<polygon points="718.3,553.5 716.2,562.1 714.1,562.7 717.4,571.9 718.8,571.5 716.7,572.1 720,581.3 721.4,580.9 719.3,581.5 722.6,590.8 724.1,590.4 721.9,590.9 725.2,600.2 726.7,599.8 724.6,600.4 727.8,609.6 735.5,615.5 739.1,606.5 737.1,596.9 735,597.5 736.4,597.1 734.5,587.5 732.4,588.1 733.8,587.7 731.9,578.1 729.7,578.6 731.2,578.2 729.2,568.6 727.1,569.2 728.6,568.8 726.6,559.2 724.5,559.8" fill="#fff" stroke-width="3"/>
<polyline points="715.2,562.4 725.6,559.5" stroke-width="2.8"/>
<polyline points="717.8,571.8 728.2,568.9" stroke-width="2.8"/>
<polyline points="717.8,569.3 726.9,566.8" stroke-width="1.6"/>
<polyline points="720.4,581.2 730.8,578.3" stroke-width="2.8"/>
<polyline points="720.4,578.7 729.5,576.2" stroke-width="1.6"/>
<polyline points="723,590.7 733.4,587.8" stroke-width="2.8"/>
<polyline points="723,588.2 732.1,585.6" stroke-width="1.6"/>
<polyline points="725.6,600.1 736,597.2" stroke-width="2.8"/>
<polyline points="725.6,597.6 734.7,595.1" stroke-width="1.6"/>
<polyline points="728.2,609.5 738.6,606.6" stroke-width="2.8"/>
<polyline points="728.2,607 737.4,604.5" stroke-width="1.6"/>
<polygon points="727.5,665.5 722.4,670.7 720.2,670.3 719.4,679.6 720.9,679.9 718.8,679.5 718,688.9 719.5,689.1 717.3,688.8 716.6,698.1 718.1,698.3 715.9,698 715.1,707.3 720,714 726.7,709.1 728.7,700 726.6,699.6 728.1,699.9 730.2,690.7 728,690.4 729.5,690.6 731.6,681.5 729.4,681.2 730.9,681.4 733,672.3 730.8,672" fill="#fff" stroke-width="3"/>
<polyline points="721.3,670.5 731.9,672.1" stroke-width="2.8"/>
<polyline points="719.8,679.7 730.5,681.4" stroke-width="2.8"/>
<polyline points="720.9,677.4 730.2,678.9" stroke-width="1.6"/>
<polyline points="718.4,688.9 729.1,690.6" stroke-width="2.8"/>
<polyline points="719.4,686.7 728.8,688.1" stroke-width="1.6"/>
<polyline points="717,698.1 727.7,699.8" stroke-width="2.8"/>
<polyline points="718,695.9 727.4,697.3" stroke-width="1.6"/>
<polyline points="715.6,707.4 726.2,709" stroke-width="2.8"/>
<polyline points="716.6,705.1 726,706.5" stroke-width="1.6"/>
<path d="M757.6,571.2 L777,584 C781,587 785,588.8 790,588.8 C800,589 812,587 820.6,583.4 L820.6,571 L803.5,560.1 L785.7,560.1 L779.6,563.5" stroke-width="3"/>
<ellipse cx="796.6" cy="575.2" rx="12.2" ry="7.2" stroke-width="3"/>
<ellipse cx="796.6" cy="575.2" rx="7" ry="4" stroke-width="2.4"/>
<polyline points="820.3,583.4 820.3,592" stroke-width="3"/>
<polyline points="777.5,584.5 777.5,767" stroke-width="1.4"/>
<path d="M757.8,613.4 L771.7,623.9 C778,628 786,633 794,635.6" stroke-width="3"/>
<path d="M771.7,623.9 L771.7,661.4 C772.5,664 774.5,666 777,667.3" stroke-width="2.8"/>
<polyline points="757.8,657.9 771.1,650.9" stroke-width="2.8"/>
<polyline points="757.8,658.5 794,680.2" stroke-width="3"/>
<path d="M774.2,713 L774.2,752 C774.5,758 778,763 783,766 L795.3,772" stroke-width="3"/>
<path d="M776,711 C780,717 787,719 794.7,719" stroke-width="2.6"/>
<polyline points="795.5,767 795.5,598.5 798.2,596.4 813.3,590.5 900,647" stroke-width="3"/>
<polyline points="796.2,599.1 884.3,658.6" stroke-width="3"/>
<path d="M884.3,658.6 C888,657.5 891,656 893.9,654.5 C896,652 898,649.5 900,647" stroke-width="3"/>
<polyline points="884.3,658.6 884.3,831.3" stroke-width="3"/>
<polyline points="893.9,654.5 894.3,827.2" stroke-width="2.6"/>
<polyline points="900,647 900,820.3" stroke-width="3"/>
<polyline points="795.5,767 884.3,831.3" stroke-width="3"/>
<path d="M884.3,831.3 C888,830 891,829 894.3,827.2 C896.5,825 898,822.5 900,820.3" stroke-width="3"/>
<path d="M800.4,775 V613 C800.4,609 804,609 807,611.5 L814,616.5 C816,618 816.8,620 816.8,623 V773 C816.8,776 814.5,777 812,775.5 L803,770 C801,769 800.4,767 800.4,765" stroke-width="3"/>
<polyline points="807.2,614 807.2,771.5" stroke-width="2.6"/>
<polyline points="800.8,762.5 804,761 816.5,769" stroke-width="1.3"/>
<path d="M829,701 C825,699 822.5,702 823.5,707 C825,713 829,719 834,722 L862,738 C866,740 868.5,737 868,733 C867.5,729 865,725 862,722 L836,705 Z" stroke-width="3"/>
<path d="M829.5,702 C828,707 831,714 836,718 L866,735" stroke-width="2.6"/>
<polyline points="834,721.5 840,718.5" stroke-width="1.3"/>
<polyline points="862,737.5 867,734" stroke-width="1.3"/>
<path d="M872,681 V663 C872,658 878.9,658 878.9,663 V684" stroke-width="2.8"/>
<path d="M862.5,720 V683 C862.5,679 866,679 869,681 L878.9,686" stroke-width="2.8"/>
<path d="M862.5,706 C863,712 866,714 870,715 L878.9,720" stroke-width="2.8"/>
<path d="M863.8,776 V753 C863.8,749 867,749 870,751 L878.9,757 V816 C878.9,820 872,820 872,816 V787 C871,784 867,783 863.8,781" stroke-width="2.8"/>
<polyline points="864,752 869.5,756 870,781" stroke-width="1.3"/>
<polygon points="830.6,631 831.3,638.3 829.6,639.7 836.3,646.9 837.5,645.9 835.8,647.3 842.5,654.5 843.7,653.5 841.9,654.9 848.6,662.1 849.8,661.1 848.1,662.5 854.8,669.7 863,671 863.5,662.7 857.8,654.7 856.1,656.1 857.3,655.1 851.7,647.1 849.9,648.5 851.1,647.5 845.5,639.5 843.8,640.9 845,639.9 839.3,631.9 837.6,633.3" fill="#fff" stroke-width="3"/>
<polyline points="830.5,639 838.5,632.6" stroke-width="2.8"/>
<polyline points="836.6,646.6 844.6,640.2" stroke-width="2.8"/>
<polyline points="835.6,644.4 842.6,638.7" stroke-width="1.6"/>
<polyline points="842.8,654.2 850.8,647.8" stroke-width="2.8"/>
<polyline points="841.8,652 848.8,646.3" stroke-width="1.6"/>
<polyline points="849,661.8 857,655.4" stroke-width="2.8"/>
<polyline points="848,659.6 854.9,653.9" stroke-width="1.6"/>
<polyline points="855.1,669.4 863.1,663" stroke-width="2.8"/>
<polyline points="854.1,667.2 861.1,661.5" stroke-width="1.6"/>
<polygon points="825.5,660 823.5,664.7 821.5,665.6 826.7,675.2 828,674.6 826.1,675.5 831.2,685.1 837.5,686 840.9,680.6 836.9,670.5 835,671.4 836.3,670.8 832.4,660.6 830.4,661.5" fill="#fff" stroke-width="3"/>
<polyline points="822.5,665.2 831.4,661.1" stroke-width="2.8"/>
<polyline points="827.1,675.1 835.9,670.9" stroke-width="2.8"/>
<polyline points="826.6,672.6 834.3,669" stroke-width="1.6"/>
<polyline points="831.6,684.9 840.5,680.8" stroke-width="2.8"/>
<polyline points="831.2,682.5 838.9,678.9" stroke-width="1.6"/>
<polygon points="843.5,673 841.4,677.6 839.4,678.5 844.4,687.7 845.8,687.1 843.8,688 848.8,697.2 855,698 858.5,692.8 854.7,683 852.7,683.9 854.1,683.3 850.3,673.5 848.3,674.4" fill="#fff" stroke-width="3"/>
<polyline points="840.4,678 849.3,674" stroke-width="2.8"/>
<polyline points="844.8,687.5 853.7,683.5" stroke-width="2.8"/>
<polyline points="844.4,685.1 852.1,681.5" stroke-width="1.6"/>
<polyline points="849.2,697 858.1,693" stroke-width="2.8"/>
<polyline points="848.8,694.6 856.5,691" stroke-width="1.6"/>
<polygon points="829.6,735 828.1,741.2 826,742.1 830.8,752 832.2,751.4 830.2,752.2 834.9,762.1 836.4,761.5 834.3,762.3 839.1,772.2 846,775 849,768.2 845.4,757.8 843.4,758.6 844.8,758 841.3,747.7 839.2,748.5 840.7,747.9 837.1,737.5 835.1,738.4" fill="#fff" stroke-width="3"/>
<polyline points="827,741.7 836.1,737.9" stroke-width="2.8"/>
<polyline points="831.2,751.8 840.3,748.1" stroke-width="2.8"/>
<polyline points="830.9,749.3 838.7,746.1" stroke-width="1.6"/>
<polyline points="835.3,761.9 844.4,758.2" stroke-width="2.8"/>
<polyline points="835,759.5 842.9,756.2" stroke-width="1.6"/>
<polyline points="839.5,772.1 848.6,768.3" stroke-width="2.8"/>
<polyline points="839.2,769.6 847,766.4" stroke-width="1.6"/>
<polygon points="847.4,746 845.3,750 843.3,750.7 847.1,759.6 848.6,759.1 846.5,759.9 850.4,768.8 856,770 859.5,765.5 856.9,756.1 854.8,756.9 856.3,756.4 853.6,747 851.5,747.8" fill="#fff" stroke-width="3"/>
<polyline points="844.3,750.4 852.6,747.4" stroke-width="2.8"/>
<polyline points="847.6,759.5 855.8,756.5" stroke-width="2.8"/>
<polyline points="847.4,757 854.4,754.5" stroke-width="1.6"/>
<polyline points="850.8,768.6 859.1,765.6" stroke-width="2.8"/>
<polyline points="850.6,766.1 857.7,763.6" stroke-width="1.6"/>
<polygon points="829.6,770 831,777.3 829.4,778.8 839,787.7 840.1,786.6 838.5,788.2 848.1,797.1 849.2,796 847.6,797.5 857.2,806.5 865.5,807 865.2,798.7 856.6,788.8 855,790.4 856.1,789.3 847.5,779.5 845.9,781 847,779.9 838.4,770.1 836.8,771.6" fill="#fff" stroke-width="3"/>
<polyline points="830.2,778 837.6,770.9" stroke-width="2.8"/>
<polyline points="839.3,787.4 846.7,780.2" stroke-width="2.8"/>
<polyline points="838.1,785.2 844.6,779" stroke-width="1.6"/>
<polyline points="848.4,796.8 855.8,789.6" stroke-width="2.8"/>
<polyline points="847.2,794.6 853.6,788.3" stroke-width="1.6"/>
<polyline points="857.5,806.1 864.9,799" stroke-width="2.8"/>
<polyline points="856.3,804 862.7,797.7" stroke-width="1.6"/>
</g>
<g fill="none" stroke="#000" stroke-linejoin="round" stroke-linecap="round">
<polygon points="642.1,592.2 647.1,590.7 651.6,593.7 653.1,598.2 657.6,600.2 657.6,611.7 653.1,614.2 650.1,608.2" fill="#fff" stroke-width="2.6"/>
<polygon points="620.1,584.2 630.9,579.3 652.9,591.5 652.9,626.5 642.1,631.4 620.1,619.2" fill="#fff" stroke="none"/>
<polyline points="620.1,619.2 620.1,584.2 630.9,579.3 652.9,591.5 652.9,626.5 642.1,631.4 620.1,619.2" stroke-width="3"/>
<polyline points="620.1,584.2 642.1,596.4 652.9,591.5" stroke-width="3"/>
<polyline points="642.1,596.4 642.1,631.4" stroke-width="3"/>
<polyline points="642.6,599.4 652.4,594.5" stroke-width="1.2"/>
<path d="M629.9,602.3 L631.2,614" stroke="#000" stroke-width="6" stroke-linecap="round"/>
<circle cx="629.9" cy="602.3" r="4.9" fill="#000" stroke="none"/>
<circle cx="631.2" cy="614" r="4.9" fill="#000" stroke="none"/>
<polygon points="642.6,730.2 647.6,728.7 652.1,731.7 653.6,736.2 658.1,738.2 658.1,749.7 653.6,752.2 650.6,746.2" fill="#fff" stroke-width="2.6"/>
<polygon points="620.6,722.2 631.4,717.3 653.4,729.5 653.4,764.5 642.6,769.4 620.6,757.2" fill="#fff" stroke="none"/>
<polyline points="620.6,757.2 620.6,722.2 631.4,717.3 653.4,729.5 653.4,764.5 642.6,769.4 620.6,757.2" stroke-width="3"/>
<polyline points="620.6,722.2 642.6,734.4 653.4,729.5" stroke-width="3"/>
<polyline points="642.6,734.4 642.6,769.4" stroke-width="3"/>
<polyline points="643.1,737.4 652.9,732.5" stroke-width="1.2"/>
<path d="M630.2,741.1 L631.5,752.8" stroke="#000" stroke-width="6" stroke-linecap="round"/>
<circle cx="630.2" cy="741.1" r="4.9" fill="#000" stroke="none"/>
<circle cx="631.5" cy="752.8" r="4.9" fill="#000" stroke="none"/>
<polygon points="758,794.5 763,793 767.5,796 769,800.5 773.5,802.5 773.5,814 769,816.5 766,810.5" fill="#fff" stroke-width="2.6"/>
<polygon points="736,786.5 746.8,781.6 771.8,794.4 771.8,825.9 761,830.8 736,818" fill="#fff" stroke="none"/>
<polyline points="736,818 736,786.5 746.8,781.6 771.8,794.4 771.8,825.9 761,830.8 736,818" stroke-width="3"/>
<polyline points="736,786.5 761,799.3 771.8,794.4" stroke-width="3"/>
<polyline points="761,799.3 761,830.8" stroke-width="3"/>
<polyline points="761.5,802.3 771.3,797.4" stroke-width="1.2"/>
<path d="M743.8,803.2 L751.4,812.2" stroke="#000" stroke-width="6" stroke-linecap="round"/>
<circle cx="743.8" cy="803.2" r="4.9" fill="#000" stroke="none"/>
<circle cx="751.4" cy="812.2" r="4.9" fill="#000" stroke="none"/>
<polygon points="761.6,688.4 771.6,692.9 775.1,696.9 775.1,708.9 769.6,712.9" fill="#fff" stroke-width="2.6"/>
<polygon points="735.6,686.9 744.6,683.4 771.5,697.5 771.5,724.5 762.5,728 735.6,713.9" fill="#fff" stroke="none"/>
<polyline points="735.6,713.9 735.6,686.9 744.6,683.4 771.5,697.5 771.5,724.5 762.5,728 735.6,713.9" stroke-width="3"/>
<polyline points="735.6,686.9 762.5,701 771.5,697.5" stroke-width="3"/>
<polyline points="762.5,701 762.5,728" stroke-width="3"/>
<polyline points="763,704 771,700.5" stroke-width="1.2"/>
<path d="M743,703 L751.7,711" stroke="#000" stroke-width="6.1" stroke-linecap="round"/>
<circle cx="743" cy="703" r="5" fill="#000" stroke="none"/>
<circle cx="751.7" cy="711" r="5" fill="#000" stroke="none"/>
<path d="M732.2,716 C729,718 730,723 734,725 L748,732 C751,733 752,730 751,727" stroke-width="2.8"/>
</g>
<g fill="none" stroke="#000" stroke-width="1.3" stroke-dasharray="15,2.5,2,2.5">
<path d="M618.7,614.4 L699.6,576.3"/>
<path d="M618.3,752.4 L716,706"/>
<path d="M772.6,696 L829,669.4"/>
<path d="M742,811 L829,767"/>
</g>
</svg>
</body></html>
